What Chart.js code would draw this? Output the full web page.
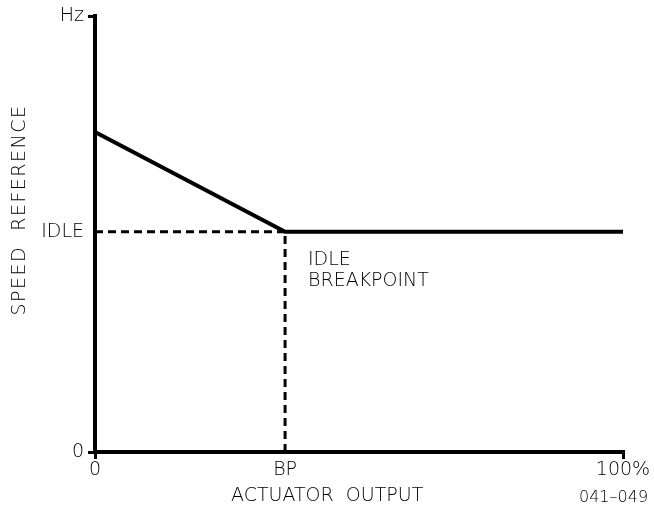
<!DOCTYPE html>
<html>
<head>
<meta charset="utf-8">
<script src="https://cdn.jsdelivr.net/npm/chart.js@4.4.1/dist/chart.umd.min.js"></script>
<style>
  html, body { margin: 0; padding: 0; background: #fff; }
  #wrap { width: 654px; height: 510px; position: relative; }
</style>
</head>
<body>
<div id="wrap"><canvas id="chart"></canvas></div>
<script>
// Actuator output (%) vs speed reference (% of Hz axis)
var xTickValues = [0, 36, 100];
var xTickLabels = ['0', 'BP', '100%'];
var yTickValues = [0, 50.5, 100];
var yTickLabels = ['0', 'IDLE', 'Hz'];

var actuatorOutput = [0, 36, 100];
var speedReference = [73.4, 50.5, 50.5];

var idleLineX = [0, 36];
var idleLineY = [50.5, 50.5];
var bpLineX = [36, 36];
var bpLineY = [0, 50.5];

var FONT = '"DejaVu Sans", sans-serif';
var FONT_SIZE = 19;

function toPoints(xs, ys) {
  return xs.map(function (x, i) { return { x: x, y: ys[i] }; });
}

function labelFor(values, labels) {
  return function (val) {
    var i = values.indexOf(val);
    return i >= 0 ? labels[i] : '';
  };
}

// Only the end ticks get a tick mark; IDLE and BP meet the dashed lines.
function tickColor(ctx) {
  var v = ctx.tick && ctx.tick.value;
  return (v === 0 || v === 100) ? '#000' : 'rgba(0,0,0,0)';
}

var textPlugin = {
  id: 'freeText',
  afterDraw: function (chart) {
    var c = chart.ctx;
    c.save();
    c.fillStyle = '#000';
    c.font = '200 ' + FONT_SIZE + 'px ' + FONT;
    c.textBaseline = 'middle';
    c.textAlign = 'left';
    c.fillText('IDLE', 308, 260);
    c.fillText('BREAKPOINT', 308, 281);
    c.fillText('ACTUATOR  OUTPUT', 231, 496);
    c.font = '200 16px ' + FONT;
    c.fillText('041\u2013049', 579, 498);
    c.font = '200 ' + FONT_SIZE + 'px ' + FONT;
    c.letterSpacing = '1.5px';
    c.translate(20, 210);
    c.rotate(-Math.PI / 2);
    c.textAlign = 'center';
    c.fillText('SPEED  REFERENCE', 0, 0);
    c.restore();
  }
};

new Chart(document.getElementById('chart').getContext('2d'), {
  type: 'line',
  data: {
    datasets: [{
      data: toPoints(actuatorOutput, speedReference),
      borderColor: '#000',
      borderWidth: 4,
      pointRadius: 0,
      fill: false
    }, {
      data: toPoints(idleLineX, idleLineY),
      borderColor: '#000',
      borderWidth: 3,
      borderDash: [8, 5],
      pointRadius: 0,
      fill: false
    }, {
      data: toPoints(bpLineX, bpLineY),
      borderColor: '#000',
      borderWidth: 3,
      borderDash: [8, 5],
      pointRadius: 0,
      fill: false
    }]
  },
  options: {
    responsive: true,
    maintainAspectRatio: false,
    animation: false,
    layout: { padding: { top: 16, right: 31, left: 0, bottom: 0 } },
    plugins: { legend: { display: false }, tooltip: { enabled: false } },
    scales: {
      x: {
        type: 'linear',
        min: 0,
        max: 100,
        afterBuildTicks: function (axis) {
          axis.ticks = xTickValues.map(function (v) { return { value: v }; });
        },
        afterFit: function (axis) { axis.height = 58; },
        border: { display: true, color: '#000', width: 4 },
        grid: { drawOnChartArea: false, tickLength: 7, lineWidth: 3, color: tickColor },
        ticks: {
          callback: labelFor(xTickValues, xTickLabels),
          color: '#000',
          font: { family: FONT, size: FONT_SIZE, weight: 200 },
          padding: 0,
          maxRotation: 0,
          autoSkip: false
        }
      },
      y: {
        type: 'linear',
        min: 0,
        max: 100,
        afterBuildTicks: function (axis) {
          axis.ticks = yTickValues.map(function (v) { return { value: v }; });
        },
        afterFit: function (axis) { axis.width = 95; },
        border: { display: true, color: '#000', width: 4 },
        grid: { drawOnChartArea: false, tickLength: 7, lineWidth: 3, color: tickColor },
        ticks: {
          callback: labelFor(yTickValues, yTickLabels),
          color: '#000',
          font: { family: FONT, size: FONT_SIZE, weight: 200 },
          padding: 4,
          autoSkip: false
        }
      }
    }
  },
  plugins: [textPlugin]
});
</script>
</body>
</html>
